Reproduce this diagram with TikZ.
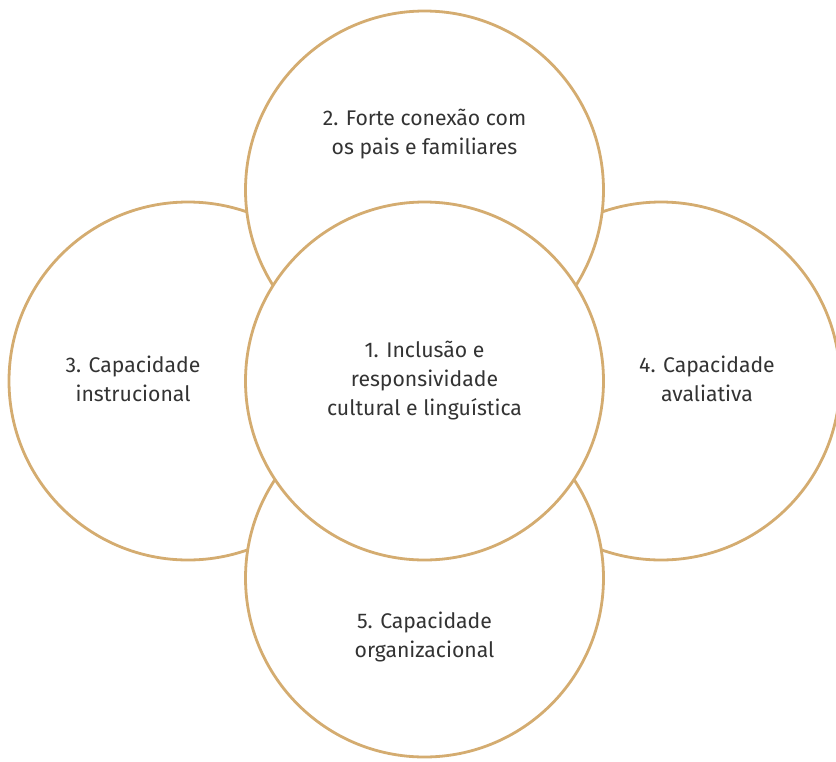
\documentclass[tikz,border=0pt]{standalone}
\usepackage{fontspec}
\setmainfont{Fira Sans}
\definecolor{ringgold}{RGB}{212,172,112}
\definecolor{textgray}{RGB}{51,51,51}
\tikzset{
  ring/.style={circle, draw=ringgold, line width=1.4pt, fill=white, minimum size=179pt, inner sep=0pt},
  ringtext/.style={text=textgray, align=center, font=\fontsize{10.6}{14.5}\selectfont}
}

\begin{document}
\begin{tikzpicture}[x=0.5pt, y=-0.5pt]
\useasboundingbox (0,0) rectangle (836,761);

% outer rings, back to front
\node[ring] (instrucional) at (188,381) {};
\node[ring] (avaliativa) at (661,381) {};
\node[ring] (familias) at (424.5,190) {};
\node[ring] (organizacional) at (424.5,578) {};
\node[ring] (inclusao) at (424.5,381) {};

% labels
\node[ringtext] (txtinclusao) at (424.5,381) {1. Inclusão e\\responsividade\\cultural e linguística};
\node[ringtext] (txtfamilias) at (424.5,134) {2. Forte conexão com\\os pais e familiares};
\node[ringtext] (txtinstrucional) at (133,379) {3. Capacidade\\instrucional};
\node[ringtext] (txtavaliativa) at (707,379) {4. Capacidade\\avaliativa};
\node[ringtext] (txtorganizacional) at (424.5,637) {5. Capacidade\\organizacional};

\end{tikzpicture}
\end{document}
